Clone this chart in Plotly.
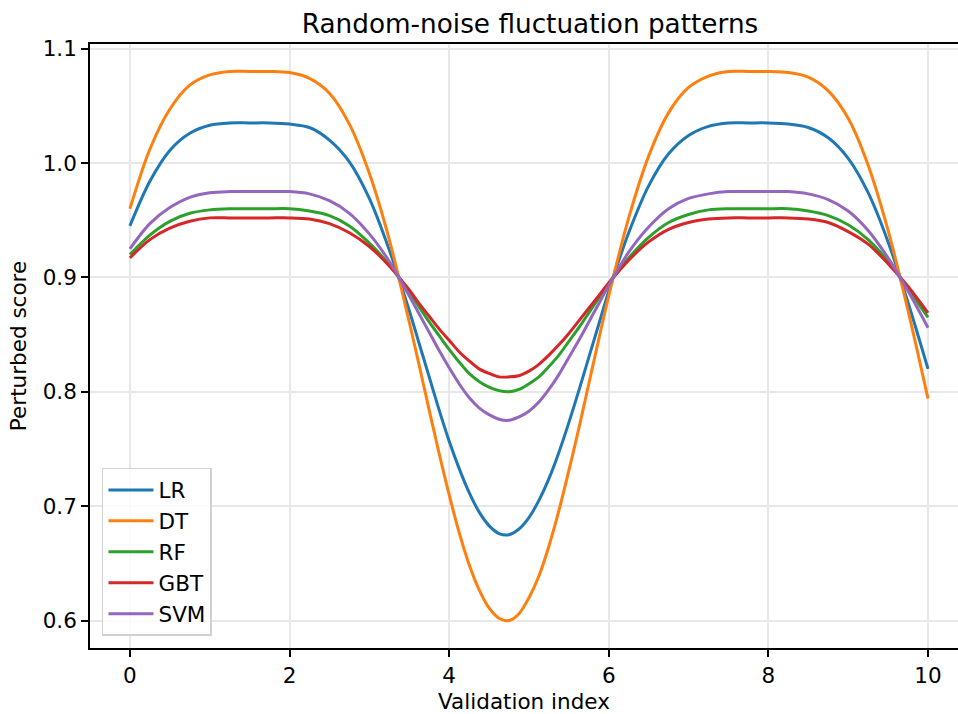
import plotly.graph_objects as go

# Validation index (x): every 0.25, with finer 0.125 steps through the valley
x_vals = [0.0, 0.25, 0.5, 0.75, 1.0, 1.25, 1.5, 1.75, 2.0, 2.25, 2.5, 2.75, 3.0, 3.25,
          3.5, 3.625, 3.75, 3.875, 4.0, 4.125, 4.25, 4.375, 4.5, 4.625, 4.75, 4.875,
          5.0, 5.125, 5.25, 5.375, 5.5, 5.625, 5.75, 5.875, 6.0,
          6.25, 6.5, 6.75, 7.0, 7.25, 7.5, 7.75, 8.0, 8.25, 8.5, 8.75, 9.0, 9.25,
          9.5, 9.75, 10.0]

lr = [0.945, 0.984, 1.011, 1.026, 1.033, 1.035, 1.035, 1.035, 1.034, 1.031,
      1.020, 1.001, 0.969, 0.924,
      0.871, 0.842, 0.813, 0.784, 0.757, 0.733, 0.712, 0.695, 0.683, 0.676, 0.675, 0.680,
      0.690, 0.705, 0.724, 0.747, 0.773, 0.801, 0.830, 0.859, 0.888,
      0.939, 0.980, 1.008, 1.024, 1.032, 1.035, 1.035, 1.035, 1.034, 1.031, 1.022, 1.004, 0.974,
      0.931, 0.878, 0.820]

dt = [0.960, 1.012, 1.047, 1.068, 1.077, 1.080, 1.080, 1.080, 1.079, 1.074,
      1.061, 1.034, 0.991, 0.933,
      0.861, 0.823, 0.784, 0.746, 0.710, 0.677, 0.649, 0.627, 0.611, 0.602, 0.600, 0.606,
      0.620, 0.639, 0.665, 0.696, 0.731, 0.768, 0.807, 0.846, 0.884,
      0.952, 1.006, 1.044, 1.066, 1.076, 1.080, 1.080, 1.080, 1.079, 1.075, 1.063, 1.039, 0.998,
      0.941, 0.871, 0.794]

rf = [0.920, 0.937, 0.949, 0.956, 0.959, 0.960, 0.960, 0.960, 0.960, 0.958,
      0.954, 0.945, 0.930, 0.911,
      0.887, 0.874, 0.861, 0.849, 0.837, 0.826, 0.816, 0.809, 0.804, 0.801, 0.800, 0.802,
      0.807, 0.813, 0.822, 0.832, 0.844, 0.856, 0.869, 0.882, 0.895,
      0.917, 0.935, 0.948, 0.955, 0.959, 0.960, 0.960, 0.960, 0.960, 0.958, 0.954, 0.946, 0.933,
      0.914, 0.890, 0.865]

gbt = [0.917, 0.933, 0.943, 0.949, 0.952, 0.952, 0.952, 0.952, 0.952, 0.951,
       0.947, 0.939, 0.927, 0.910,
       0.889, 0.877, 0.866, 0.855, 0.845, 0.835, 0.827, 0.820, 0.816, 0.813, 0.813, 0.814,
       0.818, 0.824, 0.832, 0.841, 0.851, 0.862, 0.873, 0.884, 0.895,
       0.915, 0.931, 0.942, 0.948, 0.951, 0.952, 0.952, 0.952, 0.952, 0.951, 0.948, 0.940, 0.929,
       0.912, 0.892, 0.869]

svm = [0.925, 0.947, 0.961, 0.970, 0.974, 0.975, 0.975, 0.975, 0.975, 0.973,
       0.967, 0.956, 0.938, 0.914,
       0.884, 0.868, 0.852, 0.836, 0.821, 0.807, 0.795, 0.786, 0.780, 0.776, 0.775, 0.778,
       0.783, 0.791, 0.802, 0.815, 0.830, 0.845, 0.861, 0.877, 0.893,
       0.922, 0.944, 0.960, 0.969, 0.973, 0.975, 0.975, 0.975, 0.975, 0.973, 0.968, 0.958, 0.941,
       0.917, 0.888, 0.856]

series_names = ["LR", "DT", "RF", "GBT", "SVM"]
series_values = [lr, dt, rf, gbt, svm]
colors = ["#1f77b4", "#ff7f0e", "#2ca02c", "#d62728", "#9467bd"]

x_ticks = [0, 2, 4, 6, 8, 10]
y_ticks = [0.6, 0.7, 0.8, 0.9, 1.0, 1.1]

FONT = "DejaVu Sans"
FS = 21.5

fig = go.Figure()
for name, vals, col in zip(series_names, series_values, colors):
    fig.add_trace(go.Scatter(
        x=x_vals, y=vals, mode="lines", name=name, legendgroup=name,
        line=dict(color=col, width=3, shape="spline", smoothing=0.9),
    ))

fig.update_layout(
    width=958, height=714, autosize=False,
    margin=dict(l=90, r=0, t=44, b=66, pad=0),
    paper_bgcolor="white", plot_bgcolor="white",
    font=dict(family=FONT, size=FS, color="black"),
    title=dict(text="Random-noise fluctuation patterns", x=530 / 958, xanchor="center",
               y=1 - 24 / 714, yanchor="middle", font=dict(family=FONT, size=26.3, color="black")),
    showlegend=True,
    legend=dict(x=0.0138, y=0.02, xanchor="left", yanchor="bottom",
                bgcolor="rgba(255,255,255,0.8)", bordercolor="#d0d0d0", borderwidth=1.5,
                font=dict(family=FONT, size=FS, color="black"),
                tracegroupgap=4, traceorder="normal", itemwidth=45),
    xaxis=dict(range=[-0.5, 10.376], tickmode="array", tickvals=x_ticks,
               ticktext=[str(v) for v in x_ticks],
               showgrid=True, gridcolor="#e8e8e8", gridwidth=1.5,
               showline=True, linecolor="black", linewidth=1.7, mirror=True,
               ticks="outside", ticklen=7, tickwidth=1.7, tickcolor="black",
               zeroline=False,
               title=dict(text="Validation index", standoff=10, font=dict(family=FONT, size=FS))),
    yaxis=dict(range=[0.576, 1.104], tickmode="array", tickvals=y_ticks,
               ticktext=[f"{v:.1f}" for v in y_ticks],
               showgrid=True, gridcolor="#e8e8e8", gridwidth=1.5,
               showline=True, linecolor="black", linewidth=1.7, mirror=False,
               ticks="outside", ticklen=7, tickwidth=1.7, tickcolor="black",
               zeroline=False,
               title=dict(text="Perturbed score", standoff=10, font=dict(family=FONT, size=FS))),
)

fig.write_html("out.html")
